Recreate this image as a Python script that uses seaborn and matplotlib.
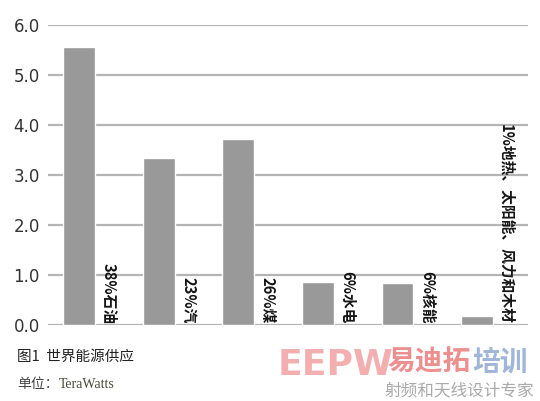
import matplotlib
matplotlib.use('Agg')
import matplotlib.pyplot as plt
import seaborn as sns
import pandas as pd

# chart data
sources = ['石油', '汽', '煤', '水电', '核能', '地热等']
supply = [5.55, 3.34, 3.72, 0.86, 0.84, 0.18]
labels = ['38%石油', '23%汽', '26%煤', '6%水电', '6%核能', '1%地热、太阳能、风力和木材']
yticks = [0.0, 1.0, 2.0, 3.0, 4.0, 5.0, 6.0]

sns.set_style('white')
plt.rcParams['font.family'] = ['Noto Sans CJK SC', 'DejaVu Sans']

df = pd.DataFrame({'source': sources, 'supply': supply})

fig = plt.figure(figsize=(5.40, 4.01), dpi=100)
ax = fig.add_axes([0.089, 0.19, 0.889, 0.748])

sns.barplot(data=df, x='source', y='supply', color='#999999', width=0.4,
            saturation=1, ax=ax, zorder=3)

for i, lab in enumerate(labels):
    ax.text(i + 0.37, 0.02, lab, rotation=270, ha='center', va='bottom',
            fontsize=10.6, fontweight='bold', color='#151515', zorder=4)

ax.set_ylim(0, 6)
ax.set_xlim(-0.39, 5.64)
ax.set_yticks(yticks)
ax.set_yticklabels([f'{v:.1f}' for v in yticks], fontsize=12, color='#333333',
                   family='DejaVu Sans')
ax.set_xticks([])
ax.set_xlabel('')
ax.set_ylabel('')
ax.tick_params(axis='y', length=0, pad=6)
ax.grid(axis='y', color='#b4b4b4', linewidth=1.6, zorder=0)
for s in ax.spines.values():
    s.set_visible(False)

# caption
fig.text(0.032, 0.11, '图1  世界能源供应', fontsize=10.5, color='#222222', va='center')
fig.text(0.032, 0.042, '单位：', fontsize=10, color='#444444', va='center')
fig.text(0.108, 0.042, 'TeraWatts', fontsize=10, color='#4a4a3a', va='center',
         family='Liberation Serif')

# watermark
fig.text(0.515, 0.09, 'EEPW', fontsize=26, fontweight='bold', color='#f2a6a6',
         va='center', family='DejaVu Sans', alpha=0.9)
fig.text(0.718, 0.095, '易迪拓', fontsize=20, fontweight='bold', color='#ee8f8f',
         va='center')
fig.text(0.874, 0.095, '培训', fontsize=20, fontweight='bold', color='#9fb6d8',
         va='center')
fig.text(0.712, 0.025, '射频和天线设计专家', fontsize=12, color='#aaaaaa', va='center')

fig.savefig('out.png', dpi=100)
